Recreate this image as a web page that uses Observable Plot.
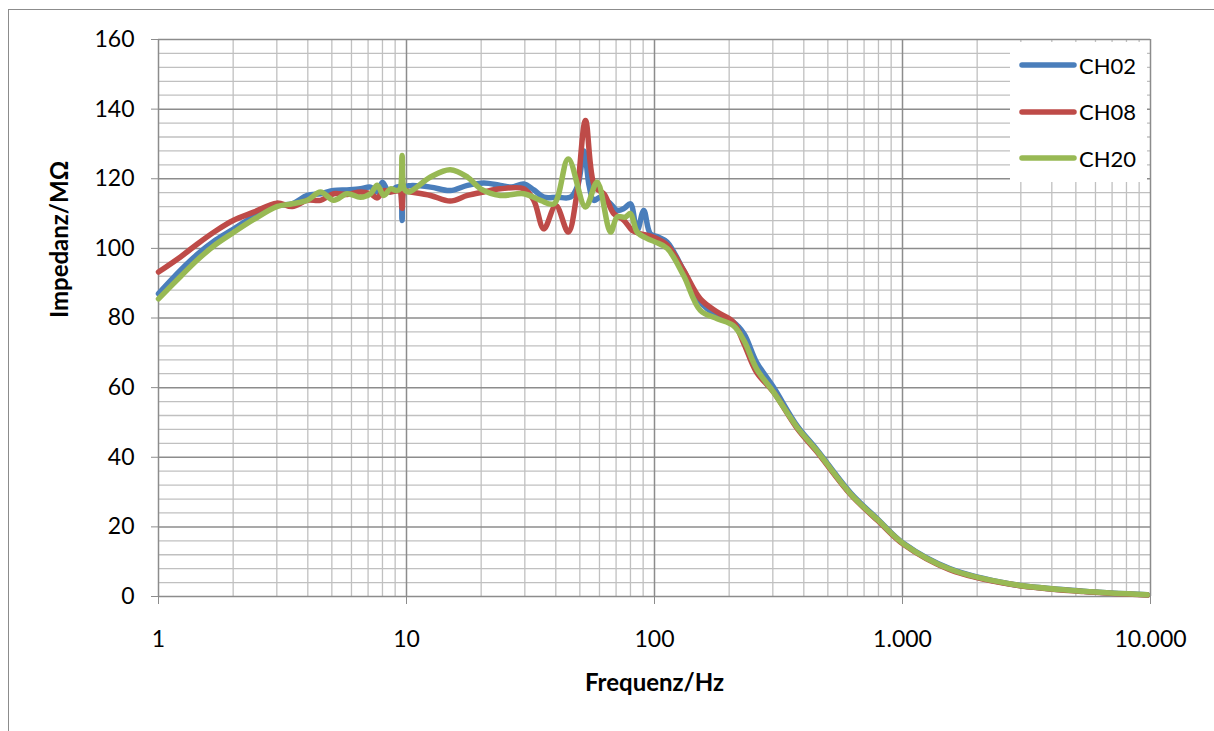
<!DOCTYPE html>
<html>
<head>
<meta charset="utf-8">
<script src="https://cdn.jsdelivr.net/npm/d3@7"></script>
<script src="https://cdn.jsdelivr.net/npm/@observablehq/plot@0.6"></script>
<style>
  html, body { margin: 0; padding: 0; background: #fff; }
  #wrap { position: relative; width: 1214px; height: 731px; overflow: hidden; font-family: Lato, "Open Sans", sans-serif; }
  #chart { position: absolute; left: 0; top: 0; }
  #frame { position: absolute; left: 8px; top: 9px; width: 1300px; height: 900px;
           border-top: 1.5px solid #8c8c8c; border-left: 1.5px solid #8c8c8c; pointer-events: none; }
  #legend { position: absolute; left: 1010px; top: 42px; width: 137px; height: 140px; background: #fff; }
  .entry { position: absolute; left: 0; height: 30px; display: flex; align-items: center; }
  .entry svg { margin-left: 9px; }
  .entry span { font-size: 22px; color: #000; margin-left: 2px; }
</style>
</head>
<body>
<div id="wrap">
  <div id="chart"></div>
  <div id="legend"></div>
  <div id="frame"></div>
</div>
<script>
// ---- data (frequency in Hz, impedance in MΩ) ----
const seriesNames = ["CH02", "CH08", "CH20"];
const seriesColors = ["#4A7EBB", "#BE4B48", "#98B954"];

const ch02 = [[1,87],[1.23,93.8],[1.43,98.2],[1.7,102.4],[2,105.5],[2.42,109.2],[3,112.3],[3.46,112.8],[3.98,115.2],[4.5,115.7],[5.09,116.6],[5.76,116.8],[6.52,117.1],[7.16,117.6],[7.62,116.2],[8.0,119],[8.5,116.2],[9.1,117.6],[9.4,117.5],[9.6,108],[9.8,117.5],[10.37,118],[12.5,117.6],[15,116.6],[17.6,118.1],[20.5,118.8],[23.9,118.1],[26.5,117.6],[29.7,118.5],[32.6,116.8],[35.8,114.7],[40.5,114.7],[45.8,114.7],[49,118],[52,128],[54.5,118],[56.9,113.8],[60.6,114.7],[66.5,112.8],[70.7,110.9],[75.5,111.5],[80,112.8],[85.1,105.1],[90.5,110.9],[96.2,104.2],[104,103.2],[112.5,101.8],[131,93.7],[153,84.6],[179,80.7],[208,78.8],[229.5,75.5],[258,67.3],[302,60.1],[376,49],[450,42.3],[617,29.8],[800,22],[1012,15.2],[1550,8],[2725,3.6],[5370,1.5],[9700,0.5]];

const ch08 = [[1,93.2],[1.23,97.6],[1.43,101.2],[1.7,105],[2,108],[2.42,110.4],[3,113],[3.46,112],[3.98,113.8],[4.5,113.8],[5.09,115.7],[5.76,115.5],[6.52,116.2],[7.16,115.7],[7.62,114.5],[8.1,116.6],[8.62,116.2],[9.1,116.5],[9.4,116.5],[9.6,111.5],[9.8,116.5],[10.37,116.2],[12.5,115.2],[15,113.6],[17.6,115.2],[20.5,116.2],[23.9,117.1],[29.7,117.1],[32.6,113.8],[35.8,105.6],[40,112.3],[44.9,104.7],[48.5,115],[52.7,136.7],[57.5,117.6],[62.5,115.7],[68.5,110],[75.2,108.1],[81.5,105.1],[88,104.2],[99.4,103.2],[112.5,101],[131,93.7],[153,85.5],[179,81.7],[208,78.8],[229.5,72.6],[258,64.4],[302,58.7],[376,48.3],[450,41.7],[617,29.3],[800,21.6],[1012,14.9],[1550,7.7],[2725,3.5],[5370,1.4],[9700,0.4]];

const ch20 = [[1,85.5],[1.23,92],[1.43,96.6],[1.7,101.1],[2,104.5],[2.42,108.3],[3,112],[3.46,112.8],[3.98,113.8],[4.5,116.2],[5.09,113.8],[5.76,115.7],[6.52,114.7],[7.16,115.7],[7.62,118.1],[8.1,115.2],[8.62,117.1],[9.1,116.6],[9.4,117],[9.6,126.7],[9.8,117],[10.2,116.2],[12.5,120.5],[15,122.6],[17.6,120.5],[19.9,117.1],[23.9,115.2],[29.7,115.7],[34.7,113.8],[39.3,112.8],[44.9,125.7],[52.7,111.9],[58.7,119],[66.5,104.7],[70.7,109],[76.3,109],[80,110],[85.1,104.7],[93.5,102.8],[100.9,101.8],[112.5,100],[131,92.2],[153,82.2],[179,79.8],[208,77.8],[229.5,73.5],[258,65.4],[302,58.7],[376,48.6],[450,42],[617,29.5],[800,21.8],[1012,15.1],[1550,7.9],[2725,3.6],[5370,1.5],[9700,0.5]];

// ---- ticks ----
const xMajor = [1, 10, 100, 1000, 10000];
const xTickLabels = ["1", "10", "100", "1.000", "10.000"];
const xMinor = [2,3,4,5,6,7,8,9, 20,30,40,50,60,70,80,90, 200,300,400,500,600,700,800,900, 2000,3000,4000,5000,6000,7000,8000,9000];
const yMajor = [0, 20, 40, 60, 80, 100, 120, 140, 160];
const yMinor = [4,8,12,16, 24,28,32,36, 44,48,52,56, 64,68,72,76, 84,88,92,96, 104,108,112,116, 124,128,132,136, 144,148,152,156];

const xTitle = "Frequenz/Hz";
const yTitle = "Impedanz/MΩ";

const series = [ch02, ch08, ch20];

const lineMarks = series.map((s, i) =>
  Plot.line(s, {x: d => d[0], y: d => d[1], stroke: seriesColors[i], strokeWidth: 5.5,
                curve: "catmull-rom", strokeLinecap: "round", strokeLinejoin: "round"})
);

const chart = Plot.plot({
  width: 1214,
  height: 731,
  marginLeft: 158,
  marginRight: 64,
  marginTop: 39,
  marginBottom: 135,
  style: {fontFamily: "Lato, 'Open Sans', sans-serif", fontSize: "23px", color: "#000", background: "transparent", overflow: "visible"},
  x: {type: "log", domain: [1, 10000]},
  y: {domain: [0, 160]},
  marks: [
    Plot.ruleX(xMinor, {stroke: "#c0c0c0", strokeWidth: 1.3}),
    Plot.ruleY(yMinor, {stroke: "#c0c0c0", strokeWidth: 1.3}),
    Plot.ruleX(xMajor, {stroke: "#8c8c8c", strokeWidth: 1.5}),
    Plot.ruleY(yMajor, {stroke: "#8c8c8c", strokeWidth: 1.5}),
    Plot.axisX({ticks: xMajor, tickSize: 8, tickPadding: 26, stroke: "#8c8c8c", fill: "#000",
                tickFormat: d => xTickLabels[xMajor.indexOf(d)], label: null}),
    Plot.axisY({ticks: yMajor, tickSize: 7, tickPadding: 17, stroke: "#8c8c8c", fill: "#000", label: null}),
    Plot.text([xTitle], {text: d => d, frameAnchor: "bottom", dy: 94, fontWeight: "bold", fontSize: 24, fill: "#000"}),
    Plot.text([yTitle], {text: d => d, frameAnchor: "left", dx: -98, rotate: -90, fontWeight: "bold", fontSize: 24, fill: "#000"}),
    ...lineMarks
  ]
});
document.getElementById("chart").appendChild(chart);

// ---- legend ----
const legend = document.getElementById("legend");
seriesNames.forEach((name, i) => {
  const e = document.createElement("div");
  e.className = "entry";
  e.style.top = (8 + i * 46.6) + "px";
  e.innerHTML = `<svg width="58" height="10"><line x1="3" y1="5" x2="55" y2="5" stroke="${seriesColors[i]}" stroke-width="5.5" stroke-linecap="round"/></svg><span>${name}</span>`;
  legend.appendChild(e);
});
</script>
</body>
</html>
